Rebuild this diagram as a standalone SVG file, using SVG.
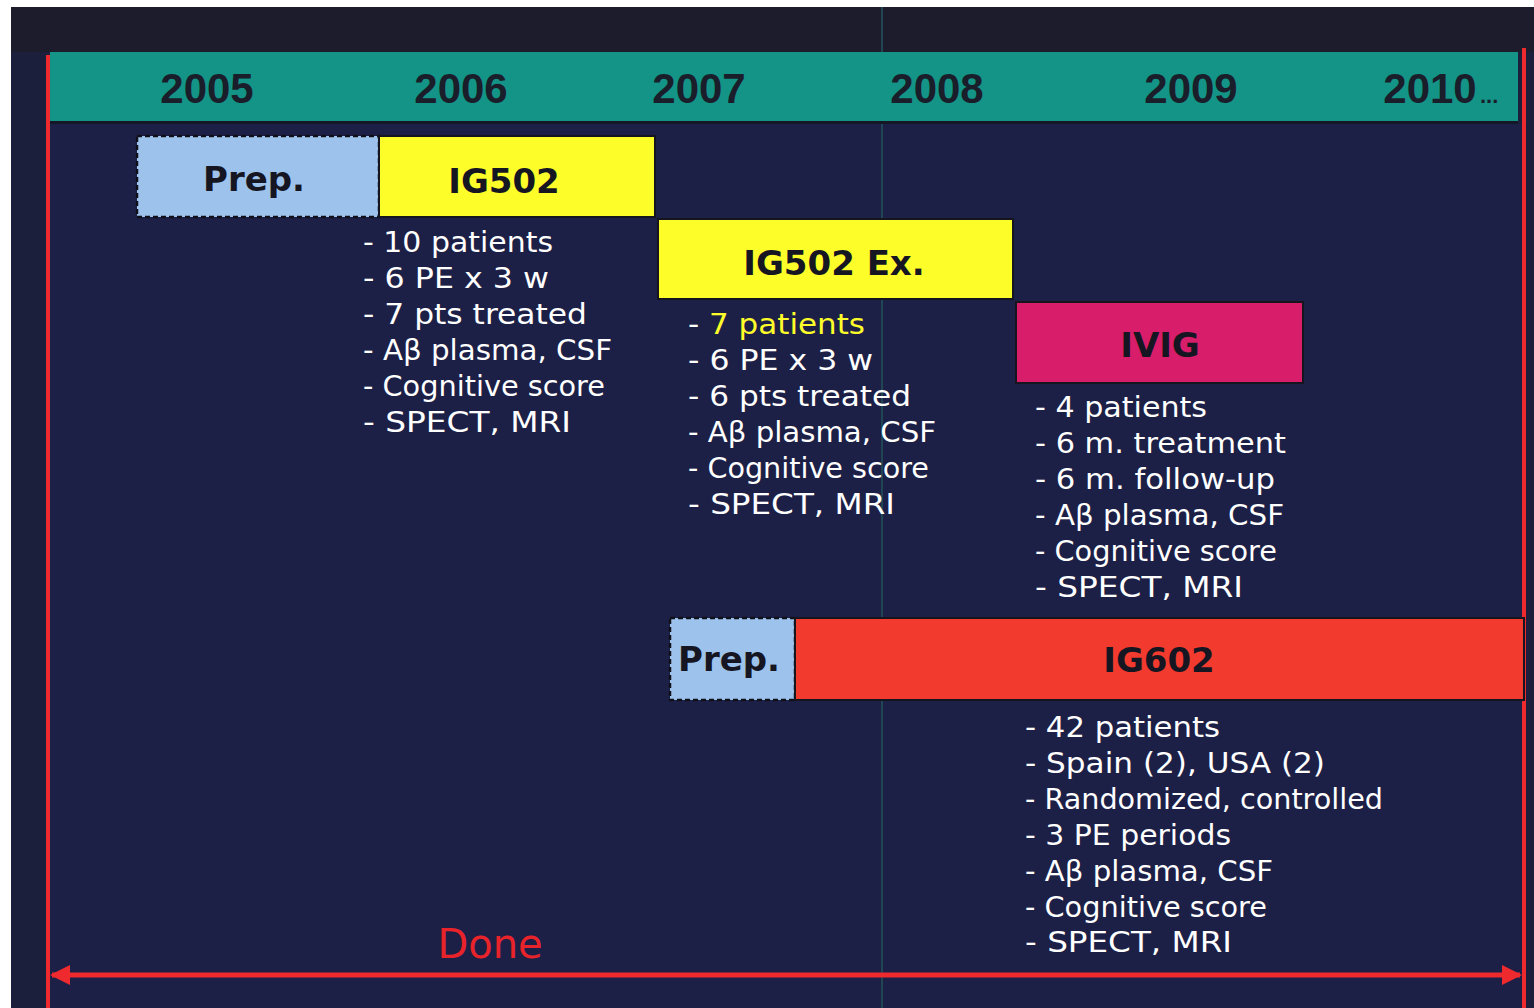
<svg xmlns="http://www.w3.org/2000/svg" width="1534" height="1008" viewBox="0 0 1534 1008">
<style>
.yr{font-family:"Liberation Sans",Arial,sans-serif;font-weight:bold;font-size:42px;fill:#1a1d2a;text-anchor:middle}
.lbl{font-family:"DejaVu Sans","Liberation Sans",sans-serif;font-weight:bold;font-size:34px;fill:#161622;text-anchor:middle}
.li{font-family:"DejaVu Sans","Liberation Sans",sans-serif;font-size:28px;fill:#ffffff}
.box{stroke:#15151f;stroke-width:2}
.prep{fill:#9dc3ec;stroke:#10101a;stroke-width:2.5;stroke-dasharray:5 3}
</style>
<defs>
<marker id="ah" viewBox="0 0 10 10" refX="9" refY="5" markerWidth="4" markerHeight="4" orient="auto-start-reverse">
<path d="M0,0 L10,5 L0,10 z" fill="#ee2a2e"/>
</marker>
</defs>
<rect x="0" y="0" width="1534" height="1008" fill="#ffffff"/>
<rect x="11" y="7" width="1523" height="1001" fill="#1c1f3c"/>
<rect x="11" y="7" width="1523" height="45" fill="#1c1c2c"/>
<rect x="50" y="124" width="1472" height="884" fill="#1d2046"/>
<line x1="882" y1="7" x2="882" y2="1008" stroke="#1f4652" stroke-width="2"/>
<rect x="50" y="52" width="1468" height="70" fill="#139487"/>
<line x1="50" y1="122.5" x2="1518" y2="122.5" stroke="#141826" stroke-width="3"/>
<g id="years">
<text class="yr" x="207" y="103">2005</text>
<text class="yr" x="461" y="103">2006</text>
<text class="yr" x="699" y="103">2007</text>
<text class="yr" x="937" y="103">2008</text>
<text class="yr" x="1191" y="103">2009</text>
<text class="yr" x="1430" y="103">2010</text>
<text x="1480" y="103" font-family="Liberation Sans, Arial, sans-serif" font-weight="bold" font-size="22" fill="#1a1d2a">...</text>
</g>
<g id="connectors">
<line x1="48" y1="55" x2="48" y2="1008" stroke="#ee2a2e" stroke-width="4"/>
<line x1="1524" y1="48" x2="1524" y2="1008" stroke="#ee2a2e" stroke-width="4"/>
<line x1="52" y1="975" x2="1520" y2="975" stroke="#ee2a2e" stroke-width="5" marker-start="url(#ah)" marker-end="url(#ah)"/>
</g>
<g id="prep1">
<rect class="prep" x="137" y="136" width="242" height="81"/>
<text class="lbl" x="254" y="191">Prep.</text>
</g>
<g id="ig502">
<rect class="box" x="379" y="136" width="276" height="81" fill="#fdfd2a"/>
<text class="lbl" x="504" y="193">IG502</text>
<text class="li" x="363" y="252" textLength="190" lengthAdjust="spacingAndGlyphs">- 10 patients</text>
<text class="li" x="363" y="288" textLength="186" lengthAdjust="spacingAndGlyphs">- 6 PE x 3 w</text>
<text class="li" x="363" y="324" textLength="224" lengthAdjust="spacingAndGlyphs">- 7 pts treated</text>
<text class="li" x="363" y="360" textLength="249" lengthAdjust="spacingAndGlyphs">- Aβ plasma, CSF</text>
<text class="li" x="363" y="396" textLength="242" lengthAdjust="spacingAndGlyphs">- Cognitive score</text>
<text class="li" x="363" y="432" textLength="208" lengthAdjust="spacingAndGlyphs">- SPECT, MRI</text>
</g>
<g id="ig502ex">
<rect class="box" x="658" y="219" width="355" height="80" fill="#fdfd2a"/>
<text class="lbl" x="834" y="275">IG502 Ex.</text>
<text class="li" x="688" y="334" textLength="177" lengthAdjust="spacingAndGlyphs">- <tspan fill="#fdfd2a">7 patients</tspan></text>
<text class="li" x="688" y="370" textLength="185" lengthAdjust="spacingAndGlyphs">- 6 PE x 3 w</text>
<text class="li" x="688" y="406" textLength="223" lengthAdjust="spacingAndGlyphs">- 6 pts treated</text>
<text class="li" x="688" y="442" textLength="248" lengthAdjust="spacingAndGlyphs">- Aβ plasma, CSF</text>
<text class="li" x="688" y="478" textLength="241" lengthAdjust="spacingAndGlyphs">- Cognitive score</text>
<text class="li" x="688" y="514" textLength="207" lengthAdjust="spacingAndGlyphs">- SPECT, MRI</text>
</g>
<g id="ivig">
<rect class="box" x="1016" y="302" width="287" height="81" fill="#d81d6a"/>
<text class="lbl" x="1160" y="357">IVIG</text>
<text class="li" x="1035" y="417" textLength="172" lengthAdjust="spacingAndGlyphs">- 4 patients</text>
<text class="li" x="1035" y="453" textLength="251" lengthAdjust="spacingAndGlyphs">- 6 m. treatment</text>
<text class="li" x="1035" y="489" textLength="240" lengthAdjust="spacingAndGlyphs">- 6 m. follow-up</text>
<text class="li" x="1035" y="525" textLength="249" lengthAdjust="spacingAndGlyphs">- Aβ plasma, CSF</text>
<text class="li" x="1035" y="561" textLength="242" lengthAdjust="spacingAndGlyphs">- Cognitive score</text>
<text class="li" x="1035" y="597" textLength="208" lengthAdjust="spacingAndGlyphs">- SPECT, MRI</text>
</g>
<g id="prep2">
<rect class="prep" x="670" y="618" width="125" height="82"/>
<text class="lbl" x="729" y="671">Prep.</text>
</g>
<g id="ig602">
<rect class="box" x="795" y="618" width="729" height="82" fill="#f23a2e"/>
<text class="lbl" x="1159" y="672">IG602</text>
<text class="li" x="1025" y="737" textLength="195" lengthAdjust="spacingAndGlyphs">- 42 patients</text>
<text class="li" x="1025" y="773" textLength="300" lengthAdjust="spacingAndGlyphs">- Spain (2), USA (2)</text>
<text class="li" x="1025" y="809" textLength="358" lengthAdjust="spacingAndGlyphs">- Randomized, controlled</text>
<text class="li" x="1025" y="845" textLength="206" lengthAdjust="spacingAndGlyphs">- 3 PE periods</text>
<text class="li" x="1025" y="881" textLength="248" lengthAdjust="spacingAndGlyphs">- Aβ plasma, CSF</text>
<text class="li" x="1025" y="917" textLength="242" lengthAdjust="spacingAndGlyphs">- Cognitive score</text>
<text class="li" x="1025" y="952" textLength="207" lengthAdjust="spacingAndGlyphs">- SPECT, MRI</text>
</g>
<g id="done">
<text x="490" y="958" font-family="DejaVu Sans, Liberation Sans, sans-serif" font-size="40" fill="#e8232a" text-anchor="middle">Done</text>
</g>
</svg>
